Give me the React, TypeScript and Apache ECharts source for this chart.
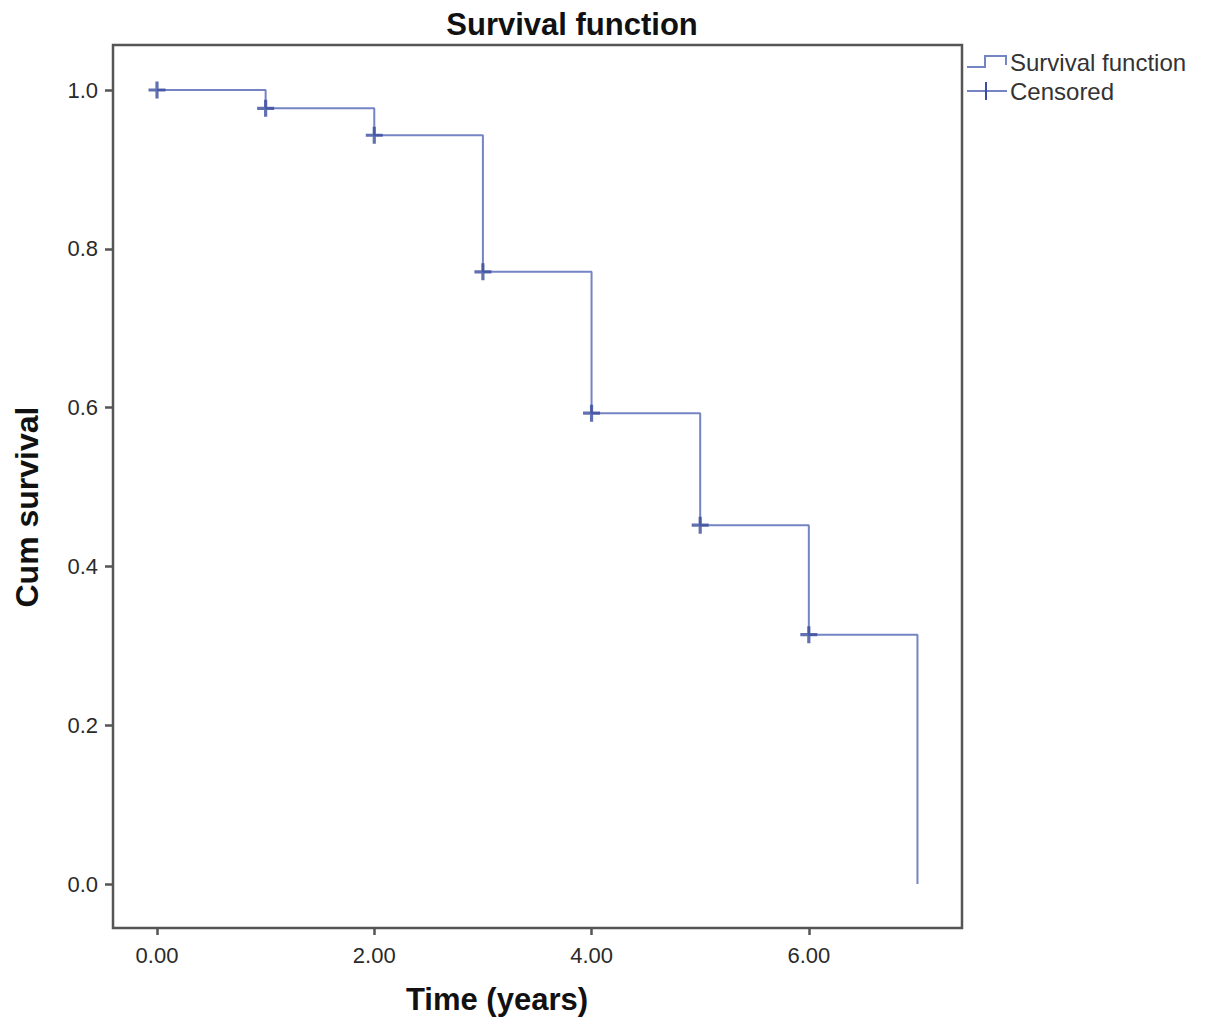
import React, { useEffect, useRef } from "react";
import * as echarts from "echarts";

const times = [0, 1, 2, 3, 4, 5, 6, 7];
const survival = [1.0, 0.977, 0.943, 0.771, 0.593, 0.452, 0.314, 0.0];
const censoredTimes = [0, 1, 2, 3, 4, 5, 6];
const censoredSurvival = [1.0, 0.977, 0.943, 0.771, 0.593, 0.452, 0.314];
const xTicks = [0, 2, 4, 6];
const yTicks = [0, 0.2, 0.4, 0.6, 0.8, 1.0];

const FONT = "'Liberation Sans', Arial, sans-serif";
const LINE = "#7484c4";
const MARK = "#3a4c9e";

export default function App() {
  const ref = useRef<HTMLDivElement>(null);
  useEffect(() => {
    if (!ref.current) return;
    const chart = echarts.init(ref.current, null, { renderer: "svg" });
    chart.setOption({
      animation: false,
      backgroundColor: "#fff",
      grid: {
        left: 113,
        right: 243,
        top: 45,
        bottom: 102,
        show: true,
        borderColor: "#555",
        borderWidth: 2.5,
        backgroundColor: "transparent",
      },
      xAxis: {
        type: "value",
        min: -0.405,
        max: 7.41,
        splitLine: { show: false },
        axisLine: { show: false, onZero: false },
        axisTick: {
          show: true,
          customValues: xTicks,
          length: 7,
          lineStyle: { color: "#555", width: 2.5 },
        },
        axisLabel: {
          customValues: xTicks,
          formatter: (v: number) => v.toFixed(2),
          fontFamily: FONT,
          fontSize: 22,
          color: "#2a2a2a",
          margin: 16,
        },
      },
      yAxis: {
        type: "value",
        min: -0.0554,
        max: 1.0567,
        splitLine: { show: false },
        axisLine: { show: false, onZero: false },
        axisTick: {
          show: true,
          customValues: yTicks,
          length: 8,
          lineStyle: { color: "#555", width: 2.5 },
        },
        axisLabel: {
          customValues: yTicks,
          formatter: (v: number) => v.toFixed(1),
          fontFamily: FONT,
          fontSize: 22,
          color: "#2a2a2a",
          margin: 15,
        },
      },
      series: [
        {
          type: "line",
          step: "end",
          data: times.map((t, i) => [t, survival[i]]),
          showSymbol: false,
          lineStyle: { color: LINE, width: 2 },
          z: 2,
        },
        {
          type: "scatter",
          data: censoredTimes.map((t, i) => [t, censoredSurvival[i]]),
          symbol: "path://M6.5,0H9.5V16H6.5ZM0,6.5H16V9.5H0Z",
          symbolSize: 17,
          itemStyle: { color: MARK },
          z: 3,
        },
      ],
      graphic: [
        {
          type: "text",
          x: 572,
          y: 24,
          style: {
            text: "Survival function",
            font: `bold 31px ${FONT}`,
            fill: "#111",
            align: "center",
            verticalAlign: "middle",
          },
        },
        {
          type: "text",
          x: 497,
          y: 999,
          style: {
            text: "Time (years)",
            font: `bold 31px ${FONT}`,
            fill: "#111",
            align: "center",
            verticalAlign: "middle",
          },
        },
        {
          type: "text",
          x: 27,
          y: 507,
          rotation: Math.PI / 2,
          style: {
            text: "Cum survival",
            font: `bold 32px ${FONT}`,
            fill: "#111",
            align: "center",
            verticalAlign: "middle",
          },
        },
        {
          type: "polyline",
          shape: {
            points: [
              [967, 67],
              [985, 67],
              [985, 56],
              [1006, 56],
              [1006, 65],
            ],
          },
          style: { stroke: LINE, lineWidth: 2, fill: "none" },
        },
        {
          type: "text",
          x: 1010,
          y: 62,
          style: {
            text: "Survival function",
            font: `24px ${FONT}`,
            fill: "#333",
            verticalAlign: "middle",
          },
        },
        {
          type: "line",
          shape: { x1: 967, y1: 91, x2: 1007, y2: 91 },
          style: { stroke: LINE, lineWidth: 2 },
        },
        {
          type: "line",
          shape: { x1: 986, y1: 82, x2: 986, y2: 100 },
          style: { stroke: MARK, lineWidth: 2 },
        },
        {
          type: "text",
          x: 1010,
          y: 91,
          style: {
            text: "Censored",
            font: `24px ${FONT}`,
            fill: "#333",
            verticalAlign: "middle",
          },
        },
      ],
    });
    return () => chart.dispose();
  }, []);
  return <div ref={ref} style={{ width: 1205, height: 1030, margin: -8 }} />;
}
